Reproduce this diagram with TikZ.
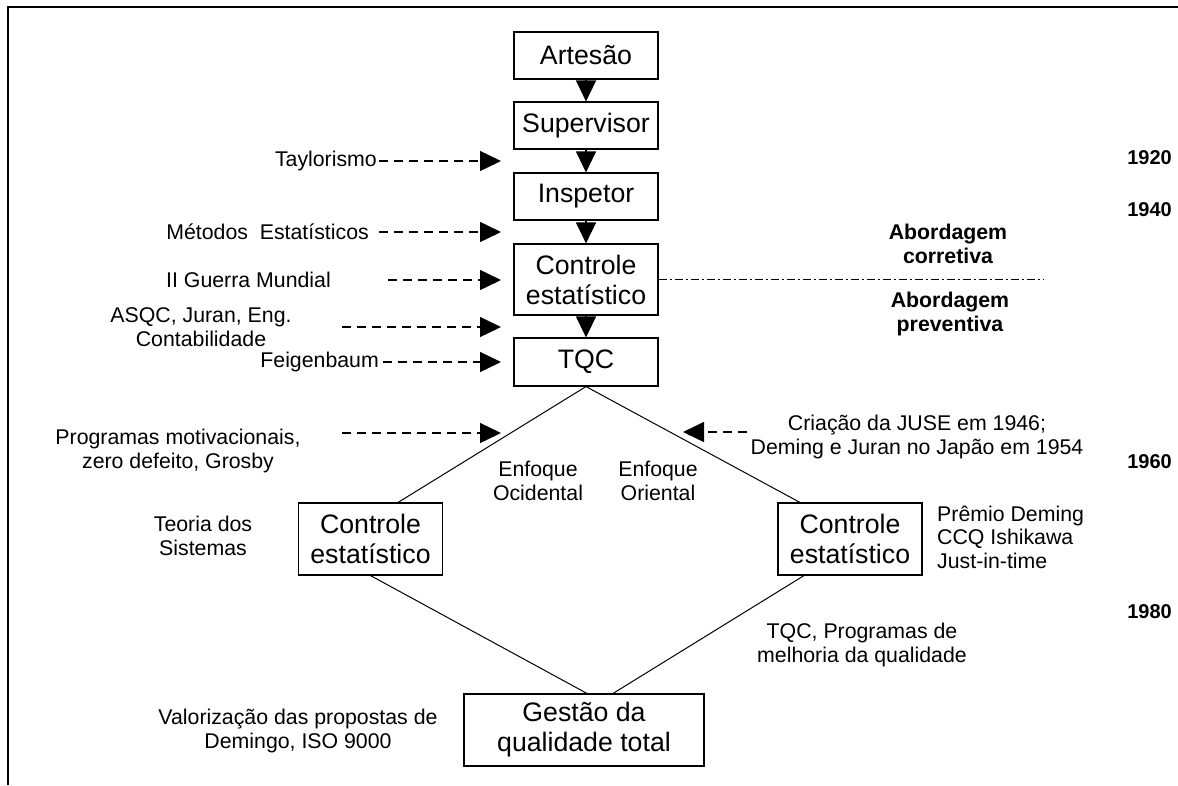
\documentclass[tikz,border=0pt]{standalone}
\usepackage{fontspec}
\setmainfont{Liberation Sans}
\usetikzlibrary{arrows.meta,calc}

\begin{document}
\begin{tikzpicture}[x=1pt, y=-1pt,
    stage/.style={draw, line width=1.1pt, minimum width=144pt, minimum height=47pt,
        inner sep=0pt, align=center, font=\fontsize{26.7}{30}\selectfont},
    note/.style={inner sep=0pt, align=center, font=\fontsize{21.3}{23.5}\selectfont},
    tag/.style={inner sep=0pt, align=center, font=\bfseries\fontsize{21.3}{24}\selectfont},
    year/.style={inner sep=0pt, anchor=east, font=\bfseries\fontsize{20}{24}\selectfont},
    flow/.style={-{Triangle[length=21pt, width=20pt]}, line width=1.1pt},
    influx/.style={-{Triangle[length=21pt, width=20pt]}, line width=1.4pt, dash pattern=on 9pt off 6pt},
    branch/.style={line width=1pt},
    split/.style={line width=1.3pt, dash pattern=on 8pt off 3pt on 2pt off 3pt}]
    \useasboundingbox (0,0) rectangle (1178,785);

    % frame
    \draw[line width=1.2pt] (8,785) -- (8,7) -- (1178,7);

    % stages
    \node[stage] (art) at (586, 55.5) {Artesão};
    \node[stage] (sup) at (586, 125.5) {Supervisor};
    \node[stage] (insp) at (586, 196.5) {Inspetor};
    \node[stage, minimum height=71pt] (ctrl) at (586, 279.5) {Controle\\estatístico};
    \node[stage, minimum height=48pt] (tqc) at (586, 362) {TQC};
    \node[stage, minimum height=72pt] (ocid) at (370.5, 539) {Controle\\estatístico};
    \node[stage, minimum height=72pt] (orie) at (850, 539) {Controle\\estatístico};
    \node[stage, minimum width=240pt, minimum height=72pt] (gqt) at (584, 730) {Gestão da\\qualidade total};

    % influences
    \node[note, anchor=east] (taylor) at (377, 161) {Taylorismo};
    \node[note, anchor=east] (metodos) at (369, 232) {Métodos\ \ Estatísticos};
    \node[note, anchor=east] (guerra) at (331, 280) {II Guerra Mundial};
    \node[note] (asqc) at (201, 327) {ASQC, Juran, Eng.\\Contabilidade};
    \node[note, anchor=east] (feig) at (379, 362) {Feigenbaum};
    \node[note] (prog) at (178, 451) {Programas motivacionais,\\zero defeito, Grosby};
    \node[note] (juse) at (917, 437) {Criação da JUSE em 1946;\\Deming e Juran no Japão em 1954};
    \node[note] (enfoc) at (538, 481) {Enfoque\\Ocidental};
    \node[note] (enfor) at (658, 481) {Enfoque\\Oriental};
    \node[note] (teoria) at (203, 536) {Teoria dos\\Sistemas};
    \node[note, align=left, anchor=west] (premio) at (937, 537) {Prêmio Deming\\CCQ Ishikawa\\Just-in-time};
    \node[note] (melhoria) at (862, 645) {TQC, Programas de\\melhoria da qualidade};
    \node[note] (valor) at (298, 731) {Valorização das propostas de\\Demingo, ISO 9000};

    % approaches and years
    \node[tag] (corr) at (948, 244) {Abordagem\\corretiva};
    \node[tag] (prev) at (950, 314) {Abordagem\\preventiva};
    \node[year] (y1920) at (1172, 158) {1920};
    \node[year] (y1940) at (1172, 210) {1940};
    \node[year] (y1960) at (1172, 462) {1960};
    \node[year] (y1980) at (1172, 612) {1980};

    \coordinate (tipL) at (501, 0);
    \coordinate (tipR) at (683, 0);
    \coordinate (progIn) at (342, 433);
    \coordinate (juseIn) at (747, 432);
    \coordinate (splitEnd) at (1044, 279.5);

    \draw[flow] (art.south) -- (sup.north);
    \draw[flow] (sup.south) -- (insp.north);
    \draw[flow] (insp.south) -- (ctrl.north);
    \draw[flow] (ctrl.south) -- (tqc.north);

    \draw[influx] ([xshift=2pt]taylor.east) -- (taylor.east -| tipL);
    \draw[influx] ([xshift=10pt]metodos.east) -- (metodos.east -| tipL);
    \draw[influx] ([xshift=57pt]guerra.east) -- (guerra.east -| tipL);
    \draw[influx] ([xshift=50pt]asqc.east) -- (asqc.east -| tipL);
    \draw[influx] ([xshift=4pt]feig.east) -- (feig.east -| tipL);
    \draw[influx] (progIn) -- (progIn -| tipL);
    \draw[influx] (juseIn) -- (juseIn -| tipR);

    \draw[branch] (tqc.south) -- ([xshift=27.5pt]ocid.north);
    \draw[branch] (tqc.south) -- ([xshift=-50pt]orie.north);
    \draw[branch] (ocid.south) -- ([xshift=3pt]gqt.north);
    \draw[branch] ([xshift=-46pt]orie.south) -- ([xshift=29pt]gqt.north);

    \draw[split] (ctrl.east) -- (splitEnd);
\end{tikzpicture}
\end{document}
